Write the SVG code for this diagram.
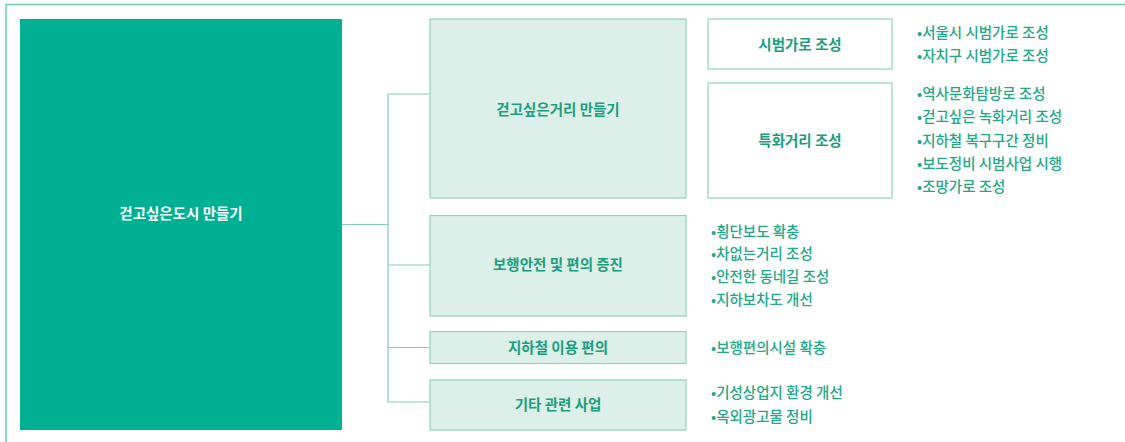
<svg xmlns="http://www.w3.org/2000/svg" width="1125" height="442" viewBox="0 0 1125 442">
<style>
text{font-family:"Noto Sans CJK KR","Noto Sans",sans-serif}
.frame{fill:none;stroke:#6fcab2;stroke-width:1.5}
.main{fill:#00b092}
.mtxt{fill:#ffffff;font-size:14.5px;font-weight:700;text-anchor:middle}
.mid{fill:#dcefe9;stroke:#8fd3bf;stroke-width:1.2}
.wht{fill:#ffffff;stroke:#8fd3bf;stroke-width:1.2}
.lbl{fill:#1a9e7f;font-size:14.5px;font-weight:700;text-anchor:middle}
.bul{fill:#22a887;font-size:14.5px;font-weight:500}
.con{fill:none;stroke:#7fcfb8;stroke-width:1.2}
</style>
<path class="frame" d="M6 442V4.5H1125"/>
<g id="connectors">
<path class="con" d="M342 224.5H388M388 94V402M388 94H430M388 265H430M388 347.5H430M388 402H430"/>
</g>
<g id="root">
<rect class="main" x="20" y="19" width="322" height="411"/>
<text class="mtxt" x="181" y="219">걷고싶은도시 만들기</text>
</g>
<g id="n1">
<rect class="mid" x="430" y="19" width="256" height="179"/>
<text class="lbl" x="558" y="115">걷고싶은거리 만들기</text>
</g>
<g id="n1a">
<rect class="wht" x="708" y="19" width="184" height="50"/>
<text class="lbl" x="800" y="50">시범가로 조성</text>
</g>
<g id="n1b">
<rect class="wht" x="708" y="83" width="184" height="115"/>
<text class="lbl" x="800" y="146">특화거리 조성</text>
</g>
<g id="n2">
<rect class="mid" x="430" y="215.5" width="256" height="100.5"/>
<text class="lbl" x="558" y="270">보행안전 및 편의 증진</text>
</g>
<g id="n3">
<rect class="mid" x="430" y="331.5" width="256" height="32"/>
<text class="lbl" x="558" y="352.5">지하철 이용 편의</text>
</g>
<g id="n4">
<rect class="mid" x="430" y="380" width="256" height="50"/>
<text class="lbl" x="558" y="410">기타 관련 사업</text>
</g>
<g id="bullets">
<text class="bul" x="917" y="38">•서울시 시범가로 조성</text>
<text class="bul" x="917" y="61">•자치구 시범가로 조성</text>
<text class="bul" x="917" y="99">•역사문화탐방로 조성</text>
<text class="bul" x="917" y="122">•걷고싶은 녹화거리 조성</text>
<text class="bul" x="917" y="146">•지하철 복구구간 정비</text>
<text class="bul" x="917" y="169">•보도정비 시범사업 시행</text>
<text class="bul" x="917" y="192">•조망가로 조성</text>
<text class="bul" x="711" y="237">•횡단보도 확충</text>
<text class="bul" x="711" y="259">•차없는거리 조성</text>
<text class="bul" x="711" y="282">•안전한 동네길 조성</text>
<text class="bul" x="711" y="305">•지하보차도 개선</text>
<text class="bul" x="711" y="353">•보행편의시설 확충</text>
<text class="bul" x="711" y="398">•기성상업지 환경 개선</text>
<text class="bul" x="711" y="422">•옥외광고물 정비</text>
</g>
</svg>
